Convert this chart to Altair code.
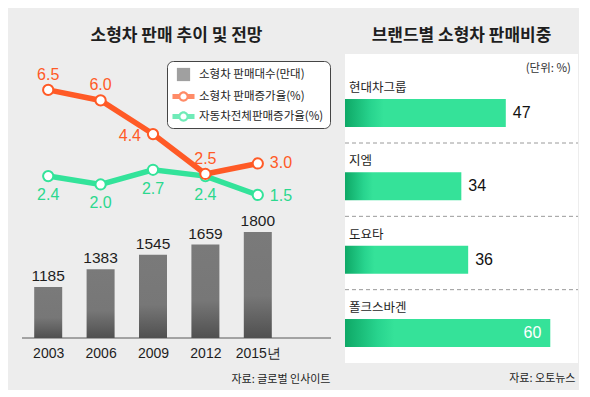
import altair as alt
import pandas as pd

# ---------------- data ----------------
years = ["2003", "2006", "2009", "2012", "2015년"]
units = [1185, 1383, 1545, 1659, 1800]
small_rate = [6.5, 6.0, 4.4, 2.5, 3.0]
total_rate = [2.4, 2.0, 2.7, 2.4, 1.5]
legend_names = ["소형차 판매대수(만대)", "소형차 판매증가율(%)", "자동차전체판매증가율(%)"]
brands = ["현대차그룹", "지엠", "도요타", "폴크스바겐"]
shares = [47, 34, 36, 60]
title_left = "소형차 판매 추이 및 전망"
title_right = "브랜드별 소형차 판매비중"
source_left = "자료: 글로벌 인사이트"
source_right = "자료: 오토뉴스"
unit_note = "(단위: %)"

# ---------------- style ----------------
FONT_KR = "Noto Sans CJK KR"
FONT_NUM = "Liberation Sans"
ORANGE = "#ff5a26"
GREEN = "#33e39a"
GREEN_TXT = "#2bd88e"
DARK = "#1e1e1e"

W1, H1 = 309, 312
W2, H2 = 233, 309
X_RANGE = [0, 262]
BAR_DOMAIN = [302, 3790]
BAR_FLOOR = 615
RATE_DOMAIN = [-6.64, 8.21]
SHARE_DOMAIN = [0, 68.1]
BRAND_RANGE = [59, 279]

SQUARE = "M-0.9,-0.9H0.9V0.9H-0.9Z"
RING = ("M-1.5,-0.34H-0.55V0.34H-1.5Z "
        "M0.55,-0.34H1.5V0.34H0.55Z "
        "M0.7,0A0.7,0.7 0 1 1 -0.7,0A0.7,0.7 0 1 1 0.7,0Z "
        "M0.42,0A0.42,0.42 0 1 0 -0.42,0A0.42,0.42 0 1 0 0.42,0Z")

df_units = pd.DataFrame({"year": years, "units": units})
df_small = pd.DataFrame({"year": years, "rate": small_rate})
df_total = pd.DataFrame({"year": years, "rate": total_rate})
df_legend = pd.DataFrame({"series": legend_names})
df_share = pd.DataFrame({"brand": brands, "share": shares})

x_axis = alt.Axis(
    title=source_left, offset=-28, domain=False, ticks=False, grid=False,
    labelAngle=0, labelFont=FONT_NUM, labelFontSize=14, labelColor=DARK,
    labelPadding=8, titleFont=FONT_KR, titleFontSize=11, titleFontWeight="normal",
    titleColor=DARK, titleX=W1 - 1, titleY=41, titleAlign="right",
    titleBaseline="middle",
)
x_year = alt.X("year:N", sort=years,
               scale=alt.Scale(type="point", range=X_RANGE, padding=0.5),
               axis=x_axis)
y_units = alt.Y("units:Q", scale=alt.Scale(domain=BAR_DOMAIN, zero=False, nice=False), axis=None)
y_rate = alt.Y("rate:Q", scale=alt.Scale(domain=RATE_DOMAIN, zero=False, nice=False), axis=None)

gray_grad = alt.Gradient(
    gradient="linear", x1=0, x2=0, y1=0, y2=1,
    stops=[alt.GradientStop(color="#7a7a7a", offset=0),
           alt.GradientStop(color="#777777", offset=0.6),
           alt.GradientStop(color="#505050", offset=1)])

baseline = alt.Chart(df_units).mark_rule(color="#a0a0a0", strokeWidth=1).encode(
    y=alt.YDatum(BAR_FLOOR, scale=alt.Scale(domain=BAR_DOMAIN, zero=False, nice=False), axis=None),
    x=alt.value(0), x2=alt.value(W1))

bars = alt.Chart(df_units).mark_bar(size=28, color=gray_grad).encode(
    x=x_year, y=y_units, y2=alt.datum(BAR_FLOOR))

bar_text = alt.Chart(df_units).mark_text(
    font=FONT_NUM, fontSize=15.5, color=DARK, baseline="bottom", dy=-3).encode(
    x=x_year, y=y_units, text="units:Q")

def line_layers(df, color):
    line = alt.Chart(df).mark_line(color=color, strokeWidth=5.5).encode(x=x_year, y=y_rate)
    pts = alt.Chart(df).mark_point(shape="circle", filled=True, fill="white", stroke=color,
                                   strokeWidth=2, size=105, opacity=1).encode(x=x_year, y=y_rate)
    return [line, pts]

def rate_text(df, color, sel, **kw):
    return alt.Chart(df).transform_filter(
        alt.FieldOneOfPredicate(field="year", oneOf=sel)
    ).mark_text(font=FONT_NUM, fontSize=16, color=color, **kw).encode(
        x=x_year, y=y_rate, text=alt.Text("rate:Q", format=".1f"))

labels = [
    rate_text(df_small, ORANGE, ["2003", "2006", "2012"], dy=-15, baseline="middle"),
    rate_text(df_small, ORANGE, ["2009"], dx=-12, dy=2, align="right", baseline="middle"),
    rate_text(df_small, ORANGE, ["2015년"], dx=12, align="left", baseline="middle"),
    rate_text(df_total, GREEN_TXT, ["2003", "2006", "2009", "2012"], dy=19, baseline="middle"),
    rate_text(df_total, GREEN_TXT, ["2015년"], dx=12, dy=1, align="left", baseline="middle"),
]

leg = alt.Legend(orient="none", legendX=145, legendY=7, title=None)
legend_layer = alt.Chart(df_legend).transform_filter("false").mark_point(filled=True).encode(
    color=alt.Color("series:N", sort=legend_names,
                    scale=alt.Scale(domain=legend_names, range=["#777777", ORANGE, GREEN]),
                    legend=leg),
    shape=alt.Shape("series:N", sort=legend_names,
                    scale=alt.Scale(domain=legend_names, range=[SQUARE, RING, RING]),
                    legend=leg),
)

left = alt.layer(
    baseline, bars, bar_text,
    *line_layers(df_total, GREEN), *line_layers(df_small, ORANGE),
    *labels, legend_layer,
).resolve_scale(y="independent").properties(
    width=W1, height=H1,
    title=alt.TitleParams(title_left, font=FONT_KR, fontSize=17, fontWeight="bold",
                          color=DARK, anchor="middle", offset=9),
)

# ---------------- right panel ----------------
x_share = alt.X("share:Q", scale=alt.Scale(domain=SHARE_DOMAIN, nice=False, zero=True),
                axis=alt.Axis(title=source_right, labels=False, ticks=False, domain=False,
                              grid=False, titleFont=FONT_KR, titleFontSize=11,
                              titleFontWeight="normal", titleColor=DARK, titleX=W2 - 3,
                              titleY=15, titleAlign="right", titleBaseline="middle"))
y_brand = alt.Y("brand:N", sort=brands,
                scale=alt.Scale(type="point", range=BRAND_RANGE, padding=0), axis=None)

green_grad = alt.Gradient(
    gradient="linear", x1=0, x2=1, y1=0, y2=0,
    stops=[alt.GradientStop(color="#0ea866", offset=0),
           alt.GradientStop(color="#28d48e", offset=0.16),
           alt.GradientStop(color="#35e299", offset=0.24),
           alt.GradientStop(color="#35e299", offset=1)])

seps = alt.Chart(df_share).transform_filter(
    alt.FieldOneOfPredicate(field="brand", oneOf=brands[:-1])
).mark_rule(color="#9a9a9a", strokeWidth=1, strokeDash=[4, 3], yOffset=30).encode(
    y=y_brand, x=alt.value(0), x2=alt.value(W2))

hbars = alt.Chart(df_share).mark_bar(size=28, color=green_grad).encode(x=x_share, y=y_brand)

cat_text = alt.Chart(df_share).mark_text(
    font=FONT_KR, fontSize=12.5, color=DARK, align="left", baseline="middle", dx=4, dy=-25
).encode(x=alt.XDatum(0), y=y_brand, text="brand:N")

val_out = alt.Chart(df_share).transform_filter("datum.share < 50").mark_text(
    font=FONT_NUM, fontSize=16, color="#111111", align="left", baseline="middle", dx=7
).encode(x=x_share, y=y_brand, text="share:Q")

val_in = alt.Chart(df_share).transform_filter("datum.share >= 50").mark_text(
    font=FONT_NUM, fontSize=16, color="white", align="right", baseline="middle", dx=-9
).encode(x=x_share, y=y_brand, text="share:Q")

note = alt.Chart(df_share).transform_filter("datum.brand == '%s'" % brands[0]).mark_text(
    font=FONT_KR, fontSize=11.5, color="#333333", align="right", baseline="middle"
).encode(x=alt.value(W2 - 7), y=alt.value(15), text=alt.value(unit_note))

right = alt.layer(seps, hbars, cat_text, val_out, val_in, note).properties(
    width=W2, height=H2,
    title=alt.TitleParams(title_right, font=FONT_KR, fontSize=17, fontWeight="bold",
                          color=DARK, anchor="middle", offset=9),
)

chart = alt.hconcat(left, right, spacing=12).properties(
    padding={"left": 13, "top": 19, "right": 0, "bottom": 6},
    background="#ededed",
).configure_view(stroke=None, fill="white").configure_legend(
    fillColor="white", strokeColor="#444444", strokeWidth=1, cornerRadius=6,
    padding=6, labelFont=FONT_KR, labelFontSize=11.5, labelColor=DARK,
    symbolSize=216, symbolStrokeWidth=0, rowPadding=7, labelOffset=8, symbolOffset=3,
)

chart.save("out.html", embed_options={"renderer": "svg", "actions": False})
